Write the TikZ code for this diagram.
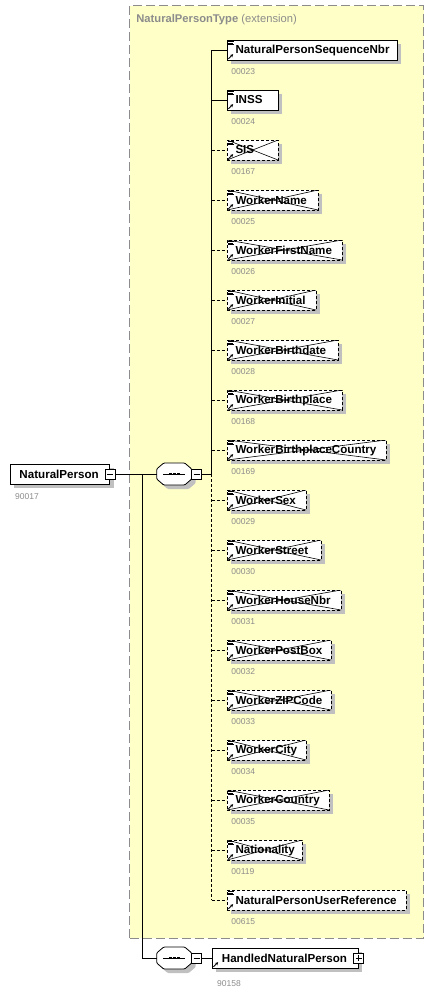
\documentclass[tikz,border=0pt]{standalone}
\usepackage{fontspec}
\setmainfont{Liberation Sans}
\usetikzlibrary{arrows.meta,shadows}
\definecolor{typefill}{HTML}{FFFFC8}
\definecolor{typeborder}{HTML}{8C8C8C}
\definecolor{shadowgray}{HTML}{C0C0C0}
\definecolor{numgray}{HTML}{8C8C8C}
\tikzset{
  shd/.style={general shadow={fill=shadowgray, draw=none, shadow xshift=4pt, shadow yshift=-4pt}},
  elbase/.style={rectangle, draw=black, line width=0.8pt, fill=white, minimum height=20pt, inner sep=0pt, anchor=west, shd},
  reqel/.style={elbase},
  optel/.style={elbase, dash pattern=on 3pt off 2pt},
  optxel/.style={optel, path picture={\draw[solid, line width=0.6pt] (path picture bounding box.north west) -- (path picture bounding box.south east) (path picture bounding box.south west) -- (path picture bounding box.north east);}},
  eltext/.style={anchor=west, inner sep=0pt, font=\fontsize{11.6}{13}\selectfont\bfseries},
  numtext/.style={anchor=west, inner sep=0pt, text=numgray, font=\fontsize{8.5}{10}\selectfont},
  conn/.style={line width=0.8pt},
  dconn/.style={line width=0.8pt, dash pattern=on 3pt off 2pt},
  typebox/.style={rectangle, draw=typeborder, fill=typefill, line width=0.8pt, dash pattern=on 9pt off 4pt, inner sep=0pt, anchor=north west},
  seqanchor/.style={rectangle, draw=none, minimum width=35pt, minimum height=22pt, inner sep=0pt},
  seqshape/.style={draw=black, line width=0.8pt, fill=white, rounded corners=1pt},
  seqshadow/.style={fill=shadowgray, draw=none, rounded corners=1pt},
  pmbox/.style={rectangle, draw=black, line width=0.7pt, fill=white, minimum width=10pt, minimum height=10pt, inner sep=0pt},
  minusbox/.style={pmbox, path picture={\draw[line width=0.7pt] ([xshift=-3pt]path picture bounding box.center) -- ([xshift=3pt]path picture bounding box.center);}},
  plusbox/.style={pmbox, path picture={\draw[line width=0.7pt] ([xshift=-3pt]path picture bounding box.center) -- ([xshift=3pt]path picture bounding box.center) ([yshift=-3pt]path picture bounding box.center) -- ([yshift=3pt]path picture bounding box.center);}},
  icon/.style={line width=0.6pt},
  refarrow/.style={line width=0.8pt, -{Stealth[length=3pt,width=3.2pt]}},
}
% octagon outline around node #1, shifted by (#2,#3)
\newcommand\octpath[3]{%
  ([shift={(-10.5pt+#2,11pt+#3)}]#1.center) -- ([shift={(10.5pt+#2,11pt+#3)}]#1.center) --
  ([shift={(17.5pt+#2,5pt+#3)}]#1.center) -- ([shift={(17.5pt+#2,-5pt+#3)}]#1.center) --
  ([shift={(10.5pt+#2,-11pt+#3)}]#1.center) -- ([shift={(-10.5pt+#2,-11pt+#3)}]#1.center) --
  ([shift={(-17.5pt+#2,-5pt+#3)}]#1.center) -- ([shift={(-17.5pt+#2,5pt+#3)}]#1.center) -- cycle}
\newcommand\seqcomp[1]{%
  \path[seqshadow] \octpath{#1}{4pt}{-4pt};
  \path[seqshape] \octpath{#1}{0pt}{0pt};
  \draw[line width=0.8pt] ([xshift=-11pt]#1.center) -- ([xshift=11pt]#1.center);
  \fill ([shift={(-5.3pt,-1.3pt)}]#1.center) rectangle ++(2.6pt,2.6pt);
  \fill ([shift={(-1.3pt,-1.3pt)}]#1.center) rectangle ++(2.6pt,2.6pt);
  \fill ([shift={(2.7pt,-1.3pt)}]#1.center) rectangle ++(2.6pt,2.6pt);
}
\begin{document}
\begin{tikzpicture}[x=1pt,y=-1pt]
\useasboundingbox (0,0) rectangle (436,994);
% complex type container
\node[typebox, minimum width=294pt, minimum height=932.4pt] (ct) at (129.3,5.3) {};
\node[anchor=west, inner sep=0pt, text=typeborder, font=\fontsize{11.2}{13}\selectfont] (ctt) at (136.2,19.5) {\textbf{NaturalPersonType} (extension)};

% child elements
\foreach \t/\w/\c/\s [count=\i] in {
  NaturalPersonSequenceNbr/170/00023/reqel,
  INSS/51/00024/reqel,
  SIS/51/00167/optxel,
  WorkerName/91/00025/optxel,
  WorkerFirstName/115/00026/optxel,
  WorkerInitial/89/00027/optxel,
  WorkerBirthdate/111/00028/optxel,
  WorkerBirthplace/115/00168/optxel,
  WorkerBirthplaceCountry/159/00169/optxel,
  WorkerSex/79/00029/optxel,
  WorkerStreet/94/00030/optxel,
  WorkerHouseNbr/114/00031/optxel,
  WorkerPostBox/104/00032/optxel,
  WorkerZIPCode/104/00033/optxel,
  WorkerCity/79/00034/optxel,
  WorkerCountry/102/00035/optxel,
  Nationality/75/00119/optxel,
  NaturalPersonUserReference/179/00615/optel}{
  \pgfmathsetmacro\yy{50*\i}
  \node[\s, minimum width=\w pt] (e\i) at (226.7,\yy) {};
  \node[eltext] (t\i) at ([xshift=8.6pt]e\i.west) {\t};
  \node[numtext] (n\i) at ([shift={(4.5pt,-22pt)}]e\i.west) {\c};
  \draw[icon] ([shift={(1.3pt,-1.8pt)}]e\i.north west) -- ++(6pt,0)
              ([shift={(1.3pt,-3.4pt)}]e\i.north west) -- ++(5pt,0)
              ([shift={(1.3pt,-5pt)}]e\i.north west) -- ++(6pt,0);
  \draw[refarrow] ([shift={(1.8pt,1.6pt)}]e\i.south west) -- ++(4.6pt,4.6pt);
  \coordinate (b\i) at (211.7,\yy);
}
\draw[conn] (b1) -- (e1.west);
\draw[conn] (b2) -- (e2.west);
\foreach \i in {3,...,18}{\draw[dconn] (b\i) -- (e\i.west);}
\coordinate (vj) at (211.7,474);
\draw[conn] (b1) -- (vj);
\draw[dconn] (vj) -- (b18);

% root element
\node[reqel, minimum width=99.3pt] (np) at (10,474) {};
\node[eltext] (npt) at ([xshift=9.3pt]np.west) {NaturalPerson};
\node[minusbox] (npm) at (np.east) {};
\node[numtext] (npn) at ([shift={(5pt,-22.5pt)}]np.west) {90017};

% first sequence
\node[seqanchor] (s1) at (174.2,474) {};
\seqcomp{s1}
\node[minusbox] (s1m) at (196.7,474) {};
\draw[conn] (npm.east) -- (s1.west);
\draw[conn] (s1m.east) -- (vj);

% second sequence
\coordinate (vj0) at (142.7,474);
\node[seqanchor] (s2) at (174.2,958) {};
\seqcomp{s2}
\node[minusbox] (s2m) at (196.7,958) {};
\draw[conn] (vj0) |- (s2.west);

% HandledNaturalPerson
\node[reqel, minimum width=146pt] (hnp) at (211.7,958) {};
\node[eltext] (hnpt) at ([xshift=10pt]hnp.west) {HandledNaturalPerson};
\draw[refarrow] ([shift={(1.8pt,1.6pt)}]hnp.south west) -- ++(4.6pt,4.6pt);
\node[plusbox] (hnpp) at (hnp.east) {};
\node[numtext] (hnpn) at ([shift={(5.3pt,-26pt)}]hnp.west) {90158};
\draw[conn] (s2m.east) -- (hnp.west);
\end{tikzpicture}
\end{document}
